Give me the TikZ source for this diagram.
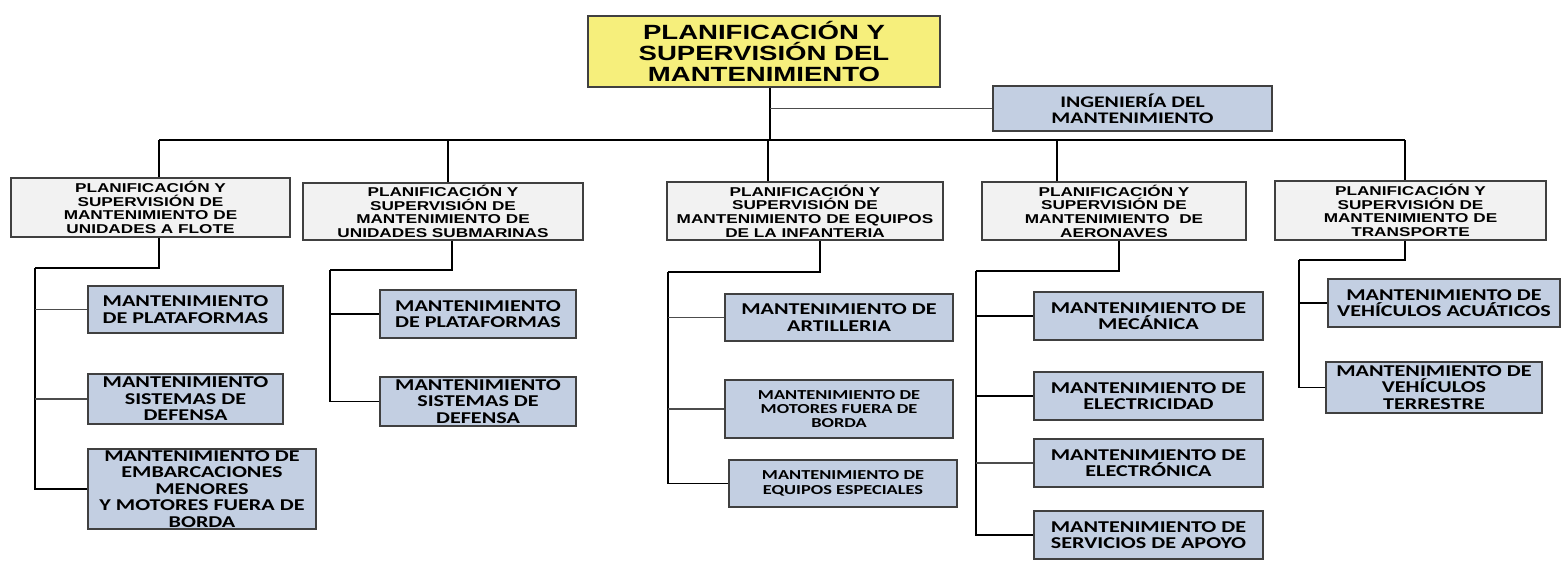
\documentclass[tikz,border=0pt]{standalone}
\usepackage{fontspec}
\newfontfamily\arialfont{Liberation Sans}[FakeStretch=1.34]
\newfontfamily\califont{Carlito}[FakeStretch=1.34]
\usepackage{tikz}
\usetikzlibrary{positioning}
\definecolor{amarillo}{RGB}{246,239,124}
\definecolor{azulclaro}{RGB}{195,207,226}
\definecolor{grisclaro}{RGB}{242,242,242}
\tikzset{
    jefebox/.style={rectangle, draw=black!75, fill=amarillo, line width=0.9pt,
        align=center, inner sep=1pt, font=\arialfont\bfseries\fontsize{11.7}{11.7}\selectfont},
    planbox/.style={rectangle, draw=black!75, fill=grisclaro, line width=0.9pt,
        align=center, inner sep=1pt, font=\arialfont\bfseries\fontsize{7.3}{7.8}\selectfont},
    mantbox/.style={rectangle, draw=black!75, fill=azulclaro, line width=0.9pt,
        align=center, inner sep=1pt, font=\califont\bfseries\fontsize{9.4}{9.4}\selectfont},
    mantchico/.style={mantbox, font=\califont\bfseries\fontsize{7.8}{8.2}\selectfont},
    linea/.style={line width=0.8pt, black},
    lineagris/.style={line width=0.9pt, gray!60!black},
}
\begin{document}
\begin{tikzpicture}[x=0.2mm, y=-0.2mm]
    \useasboundingbox (0,0) rectangle (1563,563);

    \node[jefebox, minimum width=70.4mm, minimum height=14.2mm] (jefe) at (764,51.5)
        {PLANIFICACIÓN Y\\SUPERVISIÓN DEL\\MANTENIMIENTO};
    \node[mantbox, font=\califont\bfseries\fontsize{9.2}{9.2}\selectfont,
        minimum width=55.8mm, minimum height=9mm] (ing) at (1132.5,108.5)
        {INGENIERÍA DEL\\MANTENIMIENTO};

    \node[planbox, minimum width=55.8mm, minimum height=11.8mm] (p1) at (150.5,207.5)
        {PLANIFICACIÓN Y\\SUPERVISIÓN DE\\MANTENIMIENTO DE\\UNIDADES A FLOTE};
    \node[planbox, minimum width=56mm, minimum height=11.4mm] (p2) at (443,211.5)
        {PLANIFICACIÓN Y\\SUPERVISIÓN DE\\MANTENIMIENTO DE\\UNIDADES SUBMARINAS};
    \node[planbox, minimum width=55.2mm, minimum height=11.6mm] (p3) at (805,211)
        {PLANIFICACIÓN Y\\SUPERVISIÓN DE\\MANTENIMIENTO DE EQUIPOS\\DE LA INFANTERIA};
    \node[planbox, minimum width=52.8mm, minimum height=11.6mm] (p4) at (1114,211)
        {PLANIFICACIÓN Y\\SUPERVISIÓN DE\\MANTENIMIENTO\ \ DE\\AERONAVES};
    \node[planbox, minimum width=54.2mm, minimum height=11.8mm] (p5) at (1410.5,210.5)
        {PLANIFICACIÓN Y\\SUPERVISIÓN DE\\MANTENIMIENTO DE\\TRANSPORTE};

    \node[mantbox, minimum width=39mm, minimum height=9.4mm] (m11) at (185.5,309.5)
        {MANTENIMIENTO\\DE PLATAFORMAS};
    \node[mantbox, minimum width=39mm, minimum height=10mm] (m12) at (185.5,399)
        {MANTENIMIENTO\\SISTEMAS DE\\DEFENSA};
    \node[mantbox, minimum width=45.6mm, minimum height=16mm] (m13) at (202,489)
        {MANTENIMIENTO DE\\EMBARCACIONES\\MENORES\\Y MOTORES FUERA DE\\BORDA};

    \node[mantbox, minimum width=39.2mm, minimum height=9.6mm] (m21) at (478,314)
        {MANTENIMIENTO\\DE PLATAFORMAS};
    \node[mantbox, minimum width=39.2mm, minimum height=9.8mm] (m22) at (478,401.5)
        {MANTENIMIENTO\\SISTEMAS DE\\DEFENSA};

    \node[mantbox, minimum width=45.6mm, minimum height=9.4mm] (m31) at (839,317.5)
        {MANTENIMIENTO DE\\ARTILLERIA};
    \node[mantchico, minimum width=45.6mm, minimum height=11.6mm] (m32) at (839,409)
        {MANTENIMIENTO DE\\MOTORES FUERA DE\\BORDA};
    \node[mantchico, minimum width=45.6mm, minimum height=9.4mm] (m33) at (843,483.5)
        {MANTENIMIENTO DE\\EQUIPOS ESPECIALES};

    \node[mantbox, minimum width=45.8mm, minimum height=9.6mm] (m41) at (1148.5,316)
        {MANTENIMIENTO DE\\MECÁNICA};
    \node[mantbox, minimum width=45.8mm, minimum height=9.6mm] (m42) at (1148.5,396)
        {MANTENIMIENTO DE\\ELECTRICIDAD};
    \node[mantbox, minimum width=45.8mm, minimum height=9.6mm] (m43) at (1148.5,463)
        {MANTENIMIENTO DE\\ELECTRÓNICA};
    \node[mantbox, minimum width=45.8mm, minimum height=9.6mm] (m44) at (1148.5,535)
        {MANTENIMIENTO DE\\SERVICIOS DE APOYO};

    \node[mantbox, minimum width=46.4mm, minimum height=9.6mm] (m51) at (1444,303)
        {MANTENIMIENTO DE\\VEHÍCULOS ACUÁTICOS};
    \node[mantbox, minimum width=43.2mm, minimum height=10.2mm] (m52) at (1434,387.5)
        {MANTENIMIENTO DE\\VEHÍCULOS\\TERRESTRE};

    \coordinate (bus) at (770,140);
    \coordinate (d1) at (159,140);
    \coordinate (d2) at (448,140);
    \coordinate (d3) at (768,140);
    \coordinate (d4) at (1057,140);
    \coordinate (d5) at (1405,140);
    \coordinate (e1) at (35,268);
    \coordinate (e2) at (330,270);
    \coordinate (e3) at (668,272);
    \coordinate (e4) at (976,271);
    \coordinate (e5) at (1299,260);

    \draw[linea] (jefe.south -| bus) -- (bus);
    \draw[lineagris] (ing) -- (ing -| bus);
    \draw[linea] (d1) -- (d5);
    \foreach \i in {1,...,5}
        \draw[linea] (d\i) -- (d\i |- p\i.north);

    \draw[linea] ([xshift=1.7mm]p1.south) |- (e1);
    \draw[linea] ([xshift=1.8mm]p2.south) |- (e2);
    \draw[linea] ([xshift=3mm]p3.south) |- (e3);
    \draw[linea] ([xshift=1mm]p4.south) |- (e4);
    \draw[linea] ([xshift=-1.1mm]p5.south) |- (e5);

    \draw[linea] (e1) |- (m13);
    \draw[lineagris] (e1 |- m11) -- (m11);
    \draw[lineagris] (e1 |- m12) -- (m12);
    \draw[linea] (e2) |- (m22);
    \draw[linea] (e2 |- m21) -- (m21);
    \draw[linea] (e3) |- (m33);
    \draw[lineagris] (e3 |- m31) -- (m31);
    \draw[lineagris] (e3 |- m32) -- (m32);
    \draw[linea] (e4) |- (m44);
    \draw[linea] (e4 |- m41) -- (m41);
    \draw[linea] (e4 |- m42) -- (m42);
    \draw[lineagris] (e4 |- m43) -- (m43);
    \draw[linea] (e5) |- (m52);
    \draw[linea] (e5 |- m51) -- (m51);
\end{tikzpicture}
\end{document}
